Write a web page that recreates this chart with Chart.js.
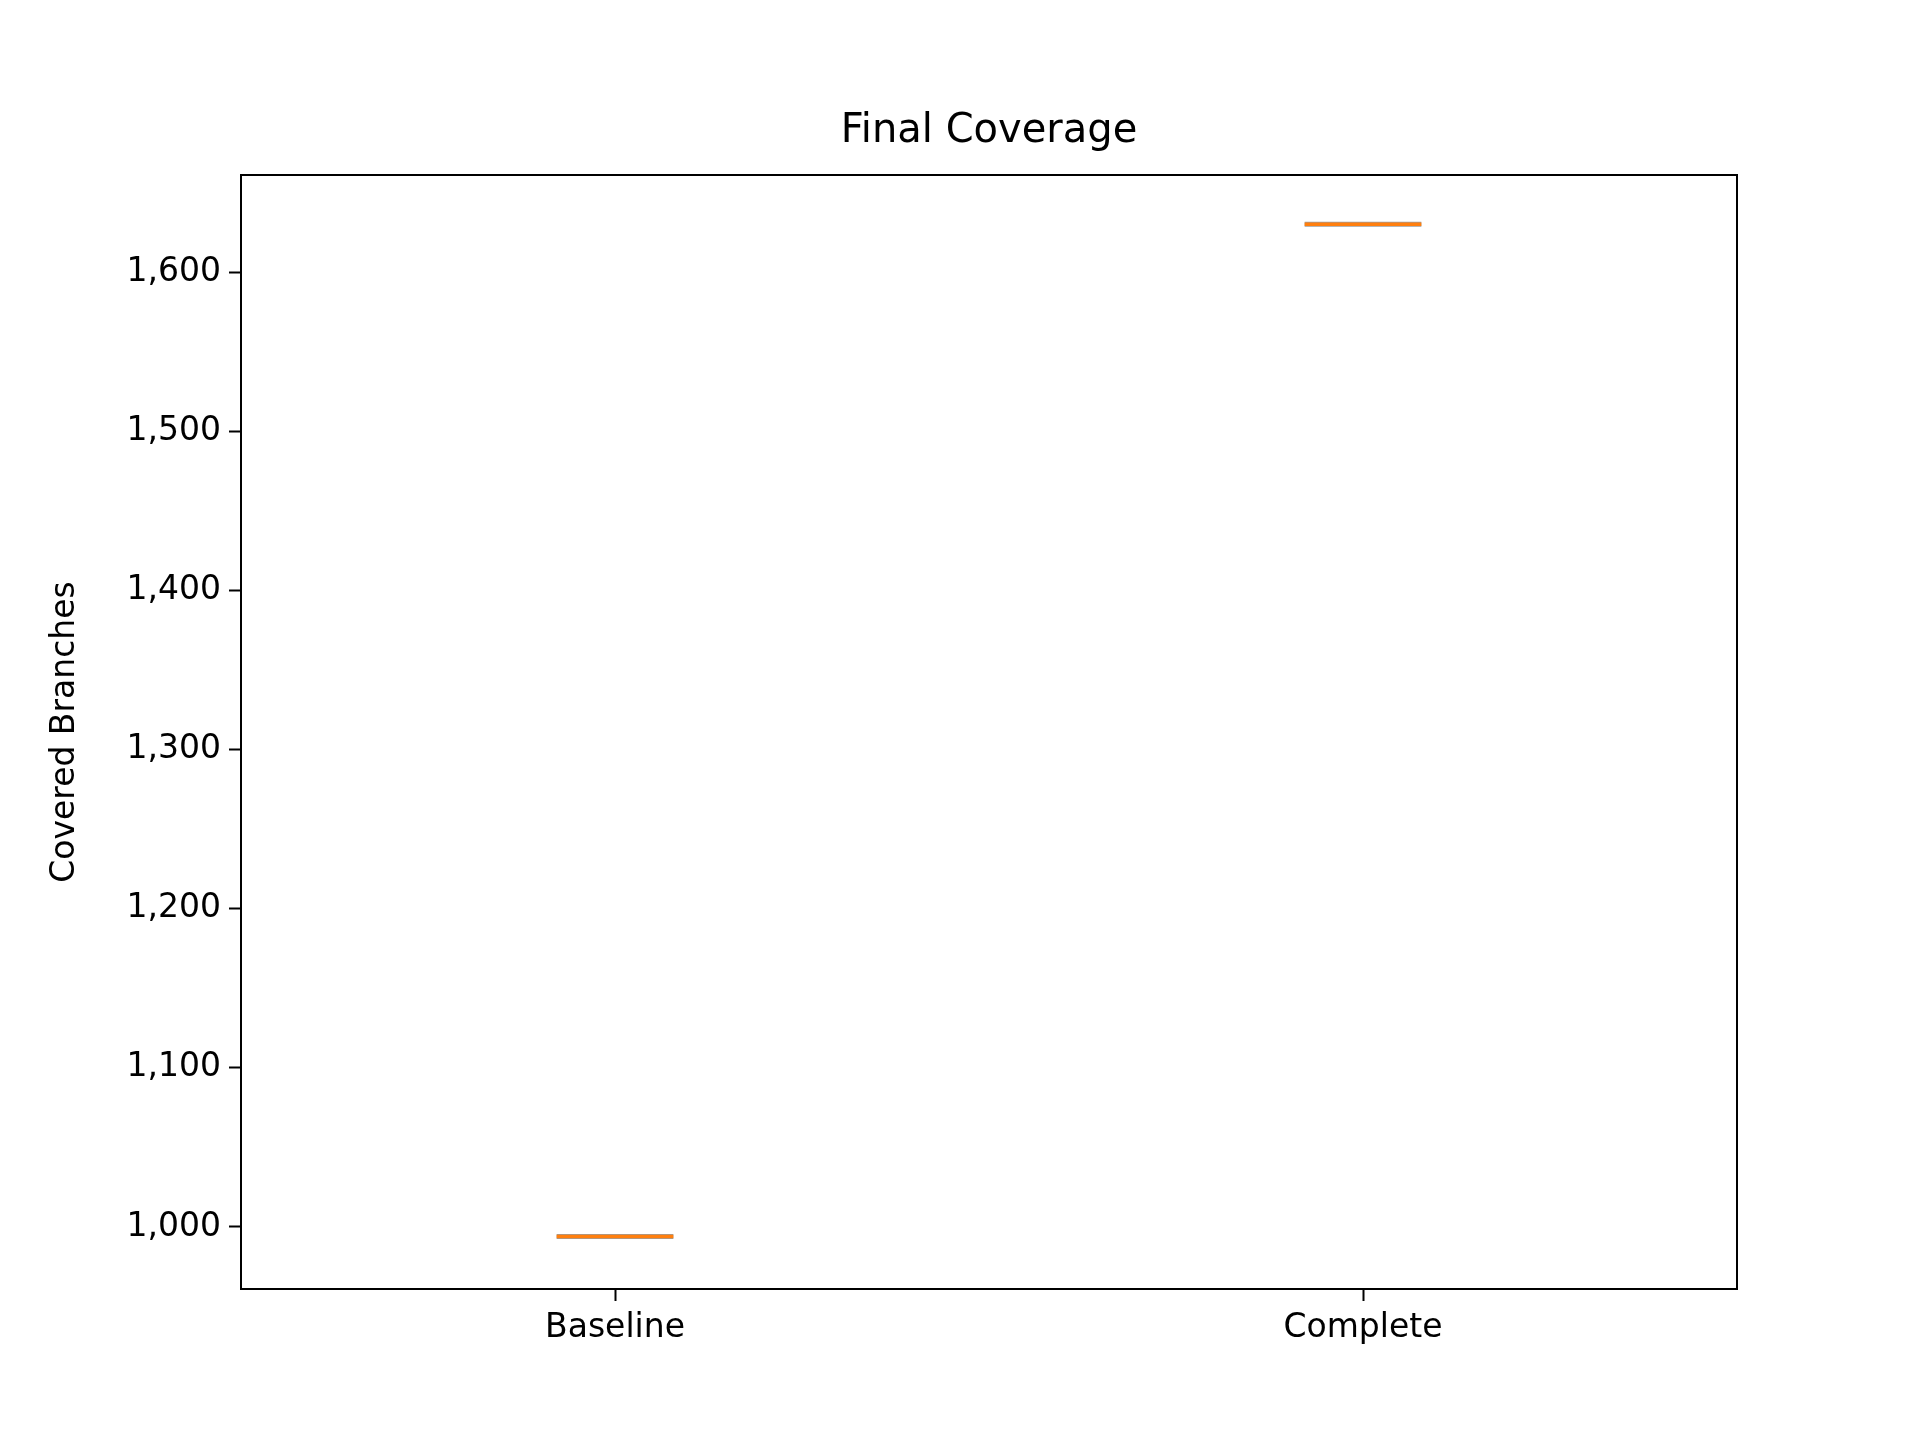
<!DOCTYPE html>
<html>
<head>
<meta charset="utf-8">
<script src="https://cdn.jsdelivr.net/npm/chart.js@4"></script>
<style>
  html, body { margin: 0; padding: 0; background: #fff; }
  #wrap { width: 1920px; height: 1440px; }
</style>
</head>
<body>
<div id="wrap"><canvas id="myChart" width="1920" height="1440"></canvas></div>
<script>
// box plot data (all quartiles collapse onto the median)
const categories = ["Baseline", "Complete"];
const medians = [994, 1630];
const yTicks = [1000, 1100, 1200, 1300, 1400, 1500, 1600];
const yMin = 961;
const yMax = 1661;
const boxHalf = 0.078;

const font = "'DejaVu Sans', sans-serif";

// one short line per box: box edge (dark) under median (orange)
const datasets = [];
categories.forEach((name, i) => {
  const x = i + 1;
  datasets.push({
    label: name + " box",
    data: [{ x: x - boxHalf, y: medians[i] }, { x: x + boxHalf, y: medians[i] }],
    borderColor: "rgba(90,90,90,0.6)",
    borderWidth: 5,
    pointRadius: 0,
    order: 2
  });
  datasets.push({
    label: name + " median",
    data: [{ x: x - boxHalf, y: medians[i] }, { x: x + boxHalf, y: medians[i] }],
    borderColor: "#ff7f0e",
    borderWidth: 3.5,
    pointRadius: 0,
    order: 1
  });
});

const framePlugin = {
  id: "frame",
  afterDraw(chart) {
    const { ctx, chartArea: a } = chart;
    ctx.save();
    ctx.strokeStyle = "#000";
    ctx.lineWidth = 2;
    ctx.strokeRect(a.left, a.top, a.right - a.left, a.bottom - a.top);
    ctx.fillStyle = "#000";
    ctx.textAlign = "center";
    ctx.textBaseline = "middle";
    ctx.font = "40px " + font;
    ctx.fillText("Final Coverage", (a.left + a.right) / 2, 132);
    ctx.translate(65, (a.top + a.bottom) / 2);
    ctx.rotate(-Math.PI / 2);
    ctx.font = "33px " + font;
    ctx.fillText("Covered Branches", 0, 0);
    ctx.restore();
  }
};

new Chart(document.querySelector("#myChart"), {
  type: "line",
  data: { datasets: datasets },
  options: {
    responsive: false,
    animation: false,
    layout: { padding: { top: 175, right: 183, left: 0, bottom: 0 } },
    plugins: { legend: { display: false }, tooltip: { enabled: false } },
    scales: {
      x: {
        type: "linear",
        min: 0.5,
        max: 2.5,
        afterBuildTicks: (scale) => { scale.ticks = categories.map((c, i) => ({ value: i + 1 })); },
        afterFit: (scale) => { scale.height = 151; },
        grid: { drawOnChartArea: false, tickLength: 12, tickColor: "#000", tickWidth: 2 },
        border: { display: false },
        ticks: {
          color: "#000",
          font: { family: font, size: 33 },
          padding: 8,
          maxRotation: 0,
          callback: (v) => categories[v - 1] || ""
        }
      },
      y: {
        type: "linear",
        min: yMin,
        max: yMax,
        afterBuildTicks: (scale) => { scale.ticks = yTicks.map((v) => ({ value: v })); },
        afterFit: (scale) => { scale.width = 241; },
        grid: { drawOnChartArea: false, tickLength: 12, tickColor: "#000", tickWidth: 2 },
        border: { display: false },
        ticks: {
          color: "#000",
          font: { family: font, size: 33 },
          padding: 8
        }
      }
    }
  },
  plugins: [framePlugin]
});
</script>
</body>
</html>
